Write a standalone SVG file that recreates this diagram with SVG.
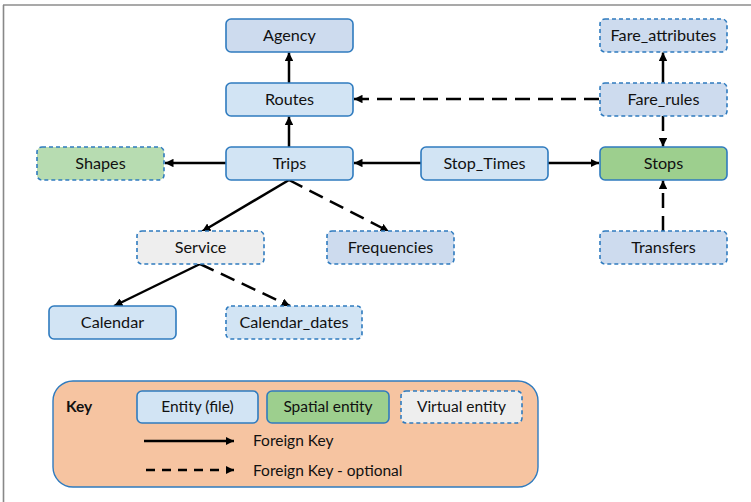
<svg xmlns="http://www.w3.org/2000/svg" width="751" height="502" viewBox="0 0 751 502">
<style>
.n rect{stroke:#2f7bbf;stroke-width:1.6}
.d rect{stroke-dasharray:4 3}
.e{fill:#d2e4f4}
.b{fill:#cddbee}
.g{fill:#9dcf8e}
.lg{fill:#b7dcb1}
.v{fill:#eeeeee}
text{font-family:"Source Sans Pro","Lato","Liberation Sans",sans-serif;font-size:16.2px;fill:#111;text-anchor:middle}
.k{font-size:15.5px}
.c line{stroke:#000;stroke-width:2.5;fill:none}
.c .o{stroke-dasharray:15 8}
</style>
<defs>
<marker id="a" viewBox="0 0 10 10" refX="10" refY="5" markerWidth="3.4" markerHeight="3.4" orient="auto" markerUnits="strokeWidth">
<path d="M0,0 L10,5 L0,10 Z" fill="#000"/>
</marker>
</defs>
<rect x="0" y="0" width="751" height="502" fill="#fff"/>
<line x1="3" y1="5" x2="751" y2="5" stroke="#555" stroke-width="1.2"/>
<line x1="3.5" y1="5" x2="3.5" y2="502" stroke="#888" stroke-width="1.6"/>

<g class="c" id="connectors">
<line x1="289" y1="83" x2="289" y2="52.5" marker-end="url(#a)"/>
<line x1="289" y1="147" x2="289" y2="116.5" marker-end="url(#a)"/>
<line class="o" x1="599" y1="99" x2="354" y2="99" marker-end="url(#a)"/>
<line x1="663" y1="83" x2="663" y2="52.5" marker-end="url(#a)"/>
<line class="o" x1="663" y1="116" x2="663" y2="146.5" marker-end="url(#a)"/>
<line x1="226" y1="163" x2="165" y2="163" marker-end="url(#a)"/>
<line x1="421" y1="163" x2="354" y2="163" marker-end="url(#a)"/>
<line x1="548" y1="163" x2="599" y2="163" marker-end="url(#a)"/>
<line class="o" x1="663" y1="231" x2="663" y2="180.5" marker-end="url(#a)"/>
<line x1="289" y1="180" x2="202" y2="231.5" marker-end="url(#a)"/>
<line class="o" x1="289" y1="180" x2="389" y2="231.5" marker-end="url(#a)"/>
<line x1="200" y1="264" x2="114" y2="306" marker-end="url(#a)"/>
<line class="o" x1="200" y1="264" x2="290" y2="306" marker-end="url(#a)"/>
</g>

<g class="n" id="agency"><rect class="b" x="226" y="19" width="127" height="33" rx="5"/><text x="289.5" y="41">Agency</text></g>
<g class="n" id="routes"><rect class="e" x="226" y="83" width="127" height="33" rx="5"/><text x="289.5" y="105">Routes</text></g>
<g class="n" id="trips"><rect class="e" x="226" y="147" width="127" height="33" rx="5"/><text x="289.5" y="169">Trips</text></g>
<g class="n d" id="shapes"><rect class="lg" x="37" y="147" width="127" height="33" rx="5"/><text x="100.5" y="169">Shapes</text></g>
<g class="n" id="stop_times"><rect class="e" x="421" y="147" width="127" height="33" rx="5"/><text x="484.5" y="169">Stop_Times</text></g>
<g class="n" id="stops"><rect class="g" x="600" y="147" width="127" height="33" rx="5"/><text x="663.5" y="169">Stops</text></g>
<g class="n d" id="fare_rules"><rect class="b" x="600" y="83" width="127" height="33" rx="5"/><text x="663.5" y="105">Fare_rules</text></g>
<g class="n d" id="fare_attributes"><rect class="b" x="600" y="19" width="127" height="33" rx="5"/><text x="663.5" y="41">Fare_attributes</text></g>
<g class="n d" id="service"><rect class="v" x="137" y="231" width="127" height="33" rx="5"/><text x="200.5" y="253">Service</text></g>
<g class="n d" id="frequencies"><rect class="b" x="327" y="231" width="127" height="33" rx="5"/><text x="390.5" y="253">Frequencies</text></g>
<g class="n d" id="transfers"><rect class="b" x="600" y="231" width="127" height="33" rx="5"/><text x="663.5" y="253">Transfers</text></g>
<g class="n" id="calendar"><rect class="e" x="49" y="306" width="127" height="33" rx="5"/><text x="112.5" y="328">Calendar</text></g>
<g class="n d" id="calendar_dates"><rect class="e" x="226" y="306" width="136" height="33" rx="5"/><text x="294" y="328">Calendar_dates</text></g>

<g id="key">
<rect x="53" y="381" width="485" height="106" rx="20" fill="#f6c4a1" stroke="#2f7bbf" stroke-width="1.4"/>
<text class="k" x="66" y="412" style="text-anchor:start;font-weight:bold">Key</text>
<g class="n"><rect class="e" x="137" y="391" width="121" height="32" rx="5"/><text class="k" x="197.5" y="412">Entity (file)</text></g>
<g class="n"><rect class="g" x="267" y="391" width="122" height="32" rx="5"/><text class="k" x="328" y="412">Spatial entity</text></g>
<g class="n d"><rect class="v" x="401" y="391" width="121" height="32" rx="5"/><text class="k" x="461.5" y="412">Virtual entity</text></g>
<g class="c">
<line x1="144" y1="441" x2="234" y2="441" marker-end="url(#a)"/>
<line x1="146" y1="470" x2="234" y2="470" style="stroke-dasharray:9 7" marker-end="url(#a)"/>
</g>
<text class="k" x="253" y="446" style="text-anchor:start">Foreign Key</text>
<text class="k" x="253" y="476" style="text-anchor:start">Foreign Key - optional</text>
</g>
</svg>
